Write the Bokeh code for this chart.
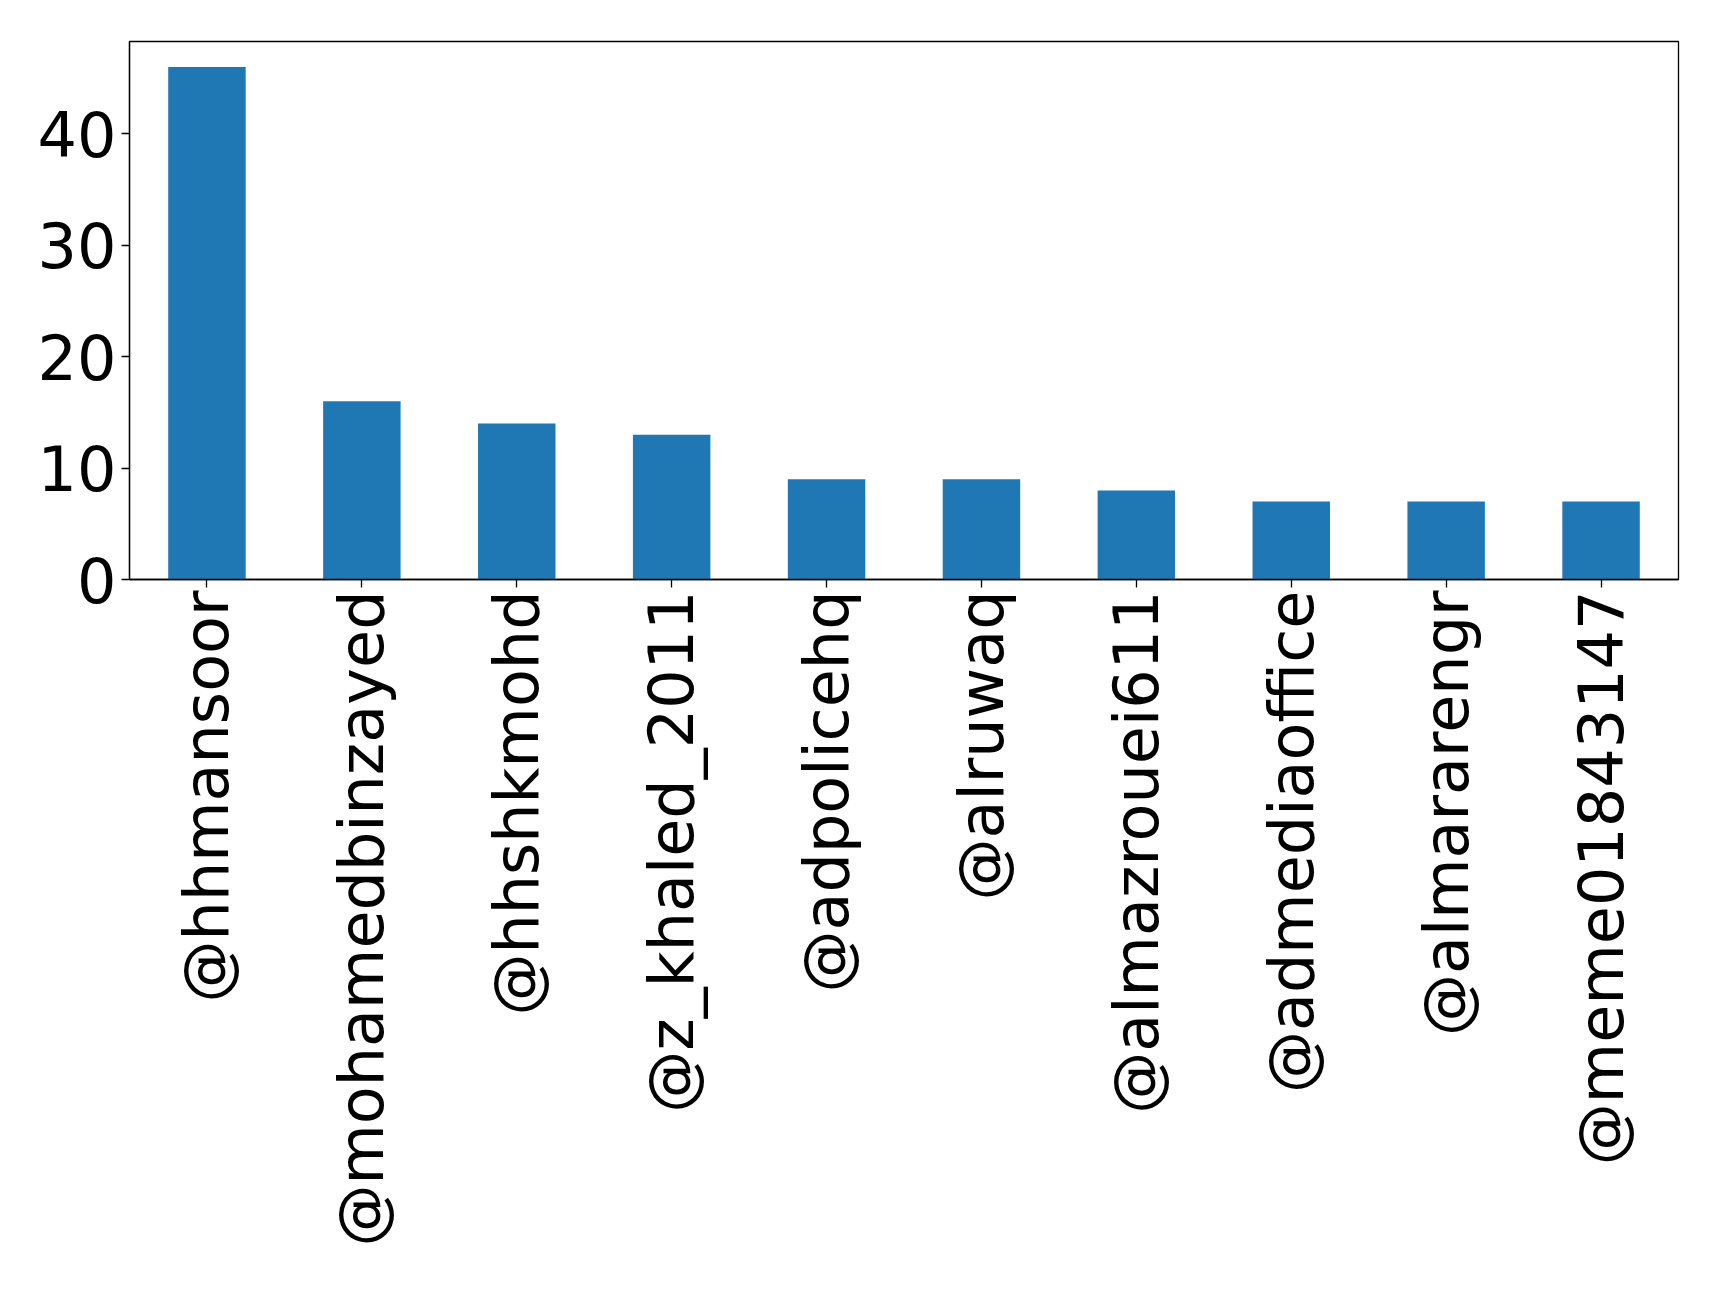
import math
from bokeh.plotting import figure
from bokeh.models import FactorRange, Range1d, ColumnDataSource, FixedTicker
from bokeh.embed import file_html
from bokeh.resources import INLINE

# Most-mentioned accounts and how often each was mentioned
accounts = [
    "@hhmansoor", "@mohamedbinzayed", "@hhshkmohd", "@z_khaled_2011",
    "@adpolicehq", "@alruwaq", "@almazrouei611", "@admediaoffice",
    "@almararengr", "@meme01843147",
]
counts = [46, 16, 14, 13, 9, 9, 8, 7, 7, 7]
y_ticks = [0, 10, 20, 30, 40]

source = ColumnDataSource(data=dict(account=accounts, count=counts))

p = figure(
    width=1719, height=1289,
    x_range=FactorRange(factors=accounts, range_padding=0),
    y_range=Range1d(0, max(counts) * 1.05),
    output_backend="svg", toolbar_location=None, tools="",
    min_border_left=129, min_border_right=41,
    min_border_top=41, min_border_bottom=710,
)

p.vbar(x="account", top="count", width=0.5, source=source,
       fill_color="#1f77b4", line_color=None)

p.xgrid.visible = False
p.ygrid.visible = False
p.outline_line_color = "black"
p.outline_line_width = 1.3
p.background_fill_color = "white"
p.border_fill_color = "white"

for ax in (p.xaxis[0], p.yaxis[0]):
    ax.axis_line_color = "black"
    ax.axis_line_width = 1.3
    ax.major_tick_line_color = "black"
    ax.major_tick_line_width = 1.3
    ax.major_tick_in = 0
    ax.major_tick_out = 8
    ax.minor_tick_line_color = None
    ax.major_label_text_font = "DejaVu Sans"
    ax.major_label_text_font_size = "62px"
    ax.major_label_text_color = "black"
    ax.major_label_standoff = 5

p.xaxis[0].major_label_standoff = 3
p.yaxis[0].ticker = FixedTicker(ticks=y_ticks)
p.xaxis[0].major_label_orientation = math.pi / 2

open("out.html", "w").write(file_html(p, INLINE))
